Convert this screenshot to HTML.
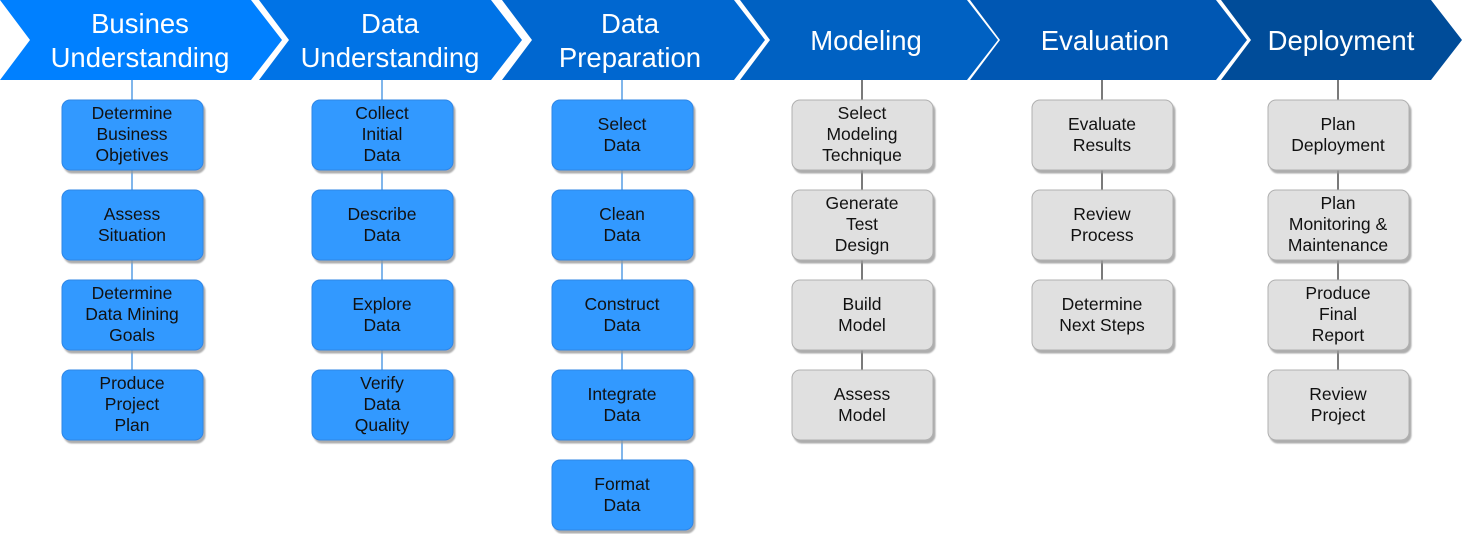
<!DOCTYPE html>
<html><head><style>
html,body{margin:0;padding:0;background:#fff;}
svg text{font-family:"Liberation Sans",Arial,sans-serif;}
</style></head><body>
<svg width="1462" height="534" viewBox="0 0 1462 534" xmlns="http://www.w3.org/2000/svg">
<defs>
<filter id="sh" x="-10%" y="-10%" width="130%" height="130%"><feDropShadow dx="2" dy="3" stdDeviation="0.8" flood-color="#999" flood-opacity="0.8"/></filter>
</defs>
<polygon points="0,0 251,0 282,40 251,80 0,80 30,40" fill="#0080FF"/>
<polygon points="259,0 491,0 522,40 491,80 259,80 289,40" fill="#0073E6"/>
<polygon points="502,0 734,0 765,40 734,80 502,80 532,40" fill="#0067D0"/>
<polygon points="740,0 967,0 998,40 967,80 740,80 770,40" fill="#0061C2"/>
<polygon points="970,0 1216,0 1247,40 1216,80 970,80 1000,40" fill="#0057B3"/>
<polygon points="1221,0 1431,0 1462,40 1431,80 1221,80 1251,40" fill="#004C99"/>
<g fill="#fff" font-size="27.5" text-anchor="middle">
<text x="140" y="33">Busines</text><text x="140" y="67">Understanding</text>
<text x="390" y="33">Data</text><text x="390" y="67">Understanding</text>
<text x="630" y="33">Data</text><text x="630" y="67">Preparation</text>
<text x="866" y="50">Modeling</text>
<text x="1105" y="50">Evaluation</text>
<text x="1341" y="50">Deployment</text>
</g>
<g stroke-width="1.3">
<line x1="132" y1="80" x2="132" y2="400" stroke="#3d8fe0"/>
<line x1="382" y1="80" x2="382" y2="400" stroke="#3d8fe0"/>
<line x1="622" y1="80" x2="622" y2="490" stroke="#3d8fe0"/>
<line x1="862" y1="80" x2="862" y2="400" stroke="#333"/>
<line x1="1102" y1="80" x2="1102" y2="310" stroke="#333"/>
<line x1="1338" y1="80" x2="1338" y2="400" stroke="#333"/>
</g>
<g font-size="17.5" text-anchor="middle" fill="#111">
<g fill="#3399FF" stroke="#2d86e6" filter="url(#sh)">
<rect x="62" y="100" width="141" height="70" rx="8"/><rect x="62" y="190" width="141" height="70" rx="8"/><rect x="62" y="280" width="141" height="70" rx="8"/><rect x="62" y="370" width="141" height="70" rx="8"/>
<rect x="312" y="100" width="141" height="70" rx="8"/><rect x="312" y="190" width="141" height="70" rx="8"/><rect x="312" y="280" width="141" height="70" rx="8"/><rect x="312" y="370" width="141" height="70" rx="8"/>
<rect x="552" y="100" width="141" height="70" rx="8"/><rect x="552" y="190" width="141" height="70" rx="8"/><rect x="552" y="280" width="141" height="70" rx="8"/><rect x="552" y="370" width="141" height="70" rx="8"/><rect x="552" y="460" width="141" height="70" rx="8"/>
</g>
<g fill="#E0E0E0" stroke="#b0b0b0" filter="url(#sh)">
<rect x="792" y="100" width="141" height="70" rx="8"/><rect x="792" y="190" width="141" height="70" rx="8"/><rect x="792" y="280" width="141" height="70" rx="8"/><rect x="792" y="370" width="141" height="70" rx="8"/>
<rect x="1032" y="100" width="141" height="70" rx="8"/><rect x="1032" y="190" width="141" height="70" rx="8"/><rect x="1032" y="280" width="141" height="70" rx="8"/>
<rect x="1268" y="100" width="141" height="70" rx="8"/><rect x="1268" y="190" width="141" height="70" rx="8"/><rect x="1268" y="280" width="141" height="70" rx="8"/><rect x="1268" y="370" width="141" height="70" rx="8"/>
</g>
<g fill="#111">
<text x="132" y="119">Determine</text><text x="132" y="140">Business</text><text x="132" y="161">Objetives</text>
<text x="132" y="220">Assess</text><text x="132" y="241">Situation</text>
<text x="132" y="299">Determine</text><text x="132" y="320">Data Mining</text><text x="132" y="341">Goals</text>
<text x="132" y="389">Produce</text><text x="132" y="410">Project</text><text x="132" y="431">Plan</text>
<text x="382" y="119">Collect</text><text x="382" y="140">Initial</text><text x="382" y="161">Data</text>
<text x="382" y="220">Describe</text><text x="382" y="241">Data</text>
<text x="382" y="310">Explore</text><text x="382" y="331">Data</text>
<text x="382" y="389">Verify</text><text x="382" y="410">Data</text><text x="382" y="431">Quality</text>
<text x="622" y="130">Select</text><text x="622" y="151">Data</text>
<text x="622" y="220">Clean</text><text x="622" y="241">Data</text>
<text x="622" y="310">Construct</text><text x="622" y="331">Data</text>
<text x="622" y="400">Integrate</text><text x="622" y="421">Data</text>
<text x="622" y="490">Format</text><text x="622" y="511">Data</text>
<text x="862" y="119">Select</text><text x="862" y="140">Modeling</text><text x="862" y="161">Technique</text>
<text x="862" y="209">Generate</text><text x="862" y="230">Test</text><text x="862" y="251">Design</text>
<text x="862" y="310">Build</text><text x="862" y="331">Model</text>
<text x="862" y="400">Assess</text><text x="862" y="421">Model</text>
<text x="1102" y="130">Evaluate</text><text x="1102" y="151">Results</text>
<text x="1102" y="220">Review</text><text x="1102" y="241">Process</text>
<text x="1102" y="310">Determine</text><text x="1102" y="331">Next Steps</text>
<text x="1338" y="130">Plan</text><text x="1338" y="151">Deployment</text>
<text x="1338" y="209">Plan</text><text x="1338" y="230">Monitoring &amp;</text><text x="1338" y="251">Maintenance</text>
<text x="1338" y="299">Produce</text><text x="1338" y="320">Final</text><text x="1338" y="341">Report</text>
<text x="1338" y="400">Review</text><text x="1338" y="421">Project</text>
</g>
</g>
</svg>
</body></html>
